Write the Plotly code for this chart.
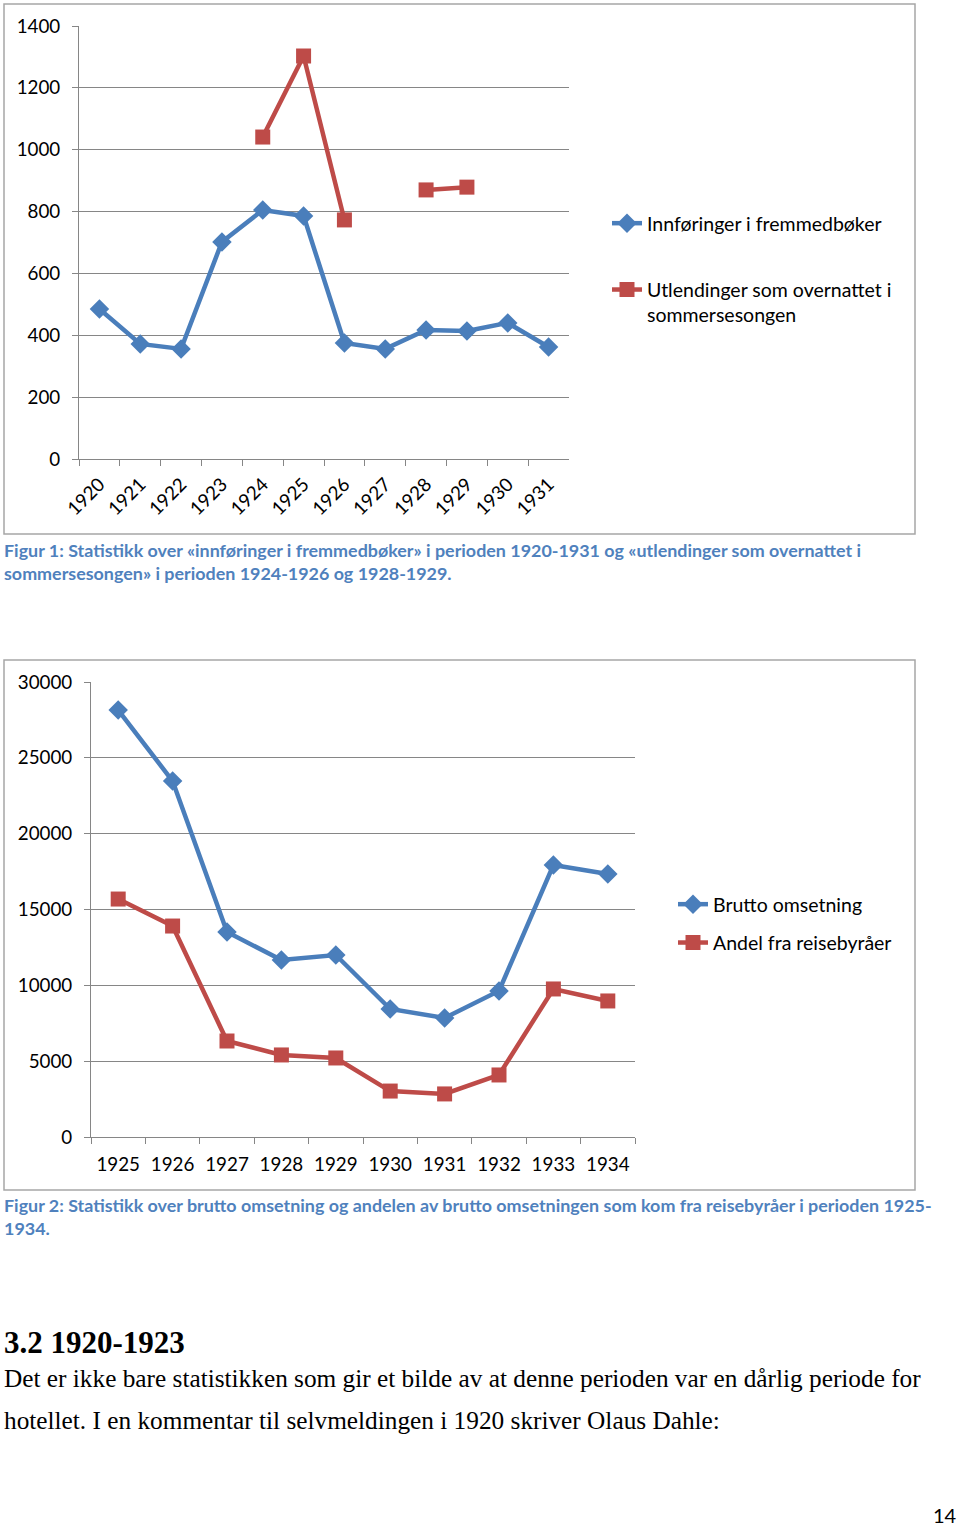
import plotly.graph_objects as go

# ---------- data ----------
years1 = ["1920", "1921", "1922", "1923", "1924", "1925", "1926", "1927", "1928", "1929", "1930", "1931"]
innforinger = [485, 372, 356, 702, 805, 786, 375, 356, 417, 414, 440, 362]
utlendinger = [None, None, None, None, 1041, 1303, 773, None, 870, 879, None, None]

years2 = ["1925", "1926", "1927", "1928", "1929", "1930", "1931", "1932", "1933", "1934"]
brutto = [28150, 23470, 13520, 11670, 12000, 8440, 7850, 9630, 17930, 17340]
reisebyraer = [15690, 13910, 6330, 5410, 5210, 3030, 2840, 4090, 9760, 8970]

yticks1 = [0, 200, 400, 600, 800, 1000, 1200, 1400]
yticks2 = [0, 5000, 10000, 15000, 20000, 25000, 30000]

caption1 = ("Figur 1: Statistikk over «innføringer i fremmedbøker» i perioden 1920-1931 og «utlendinger som overnattet i<br>"
            "sommersesongen» i perioden 1924-1926 og 1928-1929.")
caption2 = ("Figur 2: Statistikk over brutto omsetning og andelen av brutto omsetningen som kom fra reisebyråer i perioden 1925-<br>"
            "1934.")
heading = "3.2 1920-1923"
body1 = "Det er ikke bare statistikken som gir et bilde av at denne perioden var en dårlig periode for"
body2 = "hotellet. I en kommentar til selvmeldingen i 1920 skriver Olaus Dahle:"
pagenum = "14"

# ---------- style ----------
W, H = 960, 1526
BLUE = "#4A7EBB"
RED = "#BE4B48"
GRID = "#868686"
CAP = "#4F81BD"
FONT = "Lato"

def px(x):
    return x / W

def py(y):
    return 1 - y / H

fig = go.Figure()

fig.add_trace(go.Scatter(x=years1, y=innforinger, mode="lines+markers", name="Innføringer i fremmedbøker",
                         line=dict(color=BLUE, width=4.5), marker=dict(symbol="diamond", size=15, color=BLUE),
                         xaxis="x", yaxis="y", legend="legend", legendgroup="a"))
fig.add_trace(go.Scatter(x=years1, y=utlendinger, mode="lines+markers",
                         name="Utlendinger som overnattet i<br>sommersesongen",
                         line=dict(color=RED, width=4.5), marker=dict(symbol="square", size=15, color=RED),
                         connectgaps=False, xaxis="x", yaxis="y", legend="legend", legendgroup="b"))

fig.add_trace(go.Scatter(x=years2, y=brutto, mode="lines+markers", name="Brutto omsetning",
                         line=dict(color=BLUE, width=4.5), marker=dict(symbol="diamond", size=15, color=BLUE),
                         xaxis="x2", yaxis="y2", legend="legend2", legendgroup="c"))
fig.add_trace(go.Scatter(x=years2, y=reisebyraer, mode="lines+markers", name="Andel fra reisebyråer",
                         line=dict(color=RED, width=4.5), marker=dict(symbol="square", size=15, color=RED),
                         xaxis="x2", yaxis="y2", legend="legend2", legendgroup="d"))

axis_font = dict(family=FONT, size=18.8, color="#000000")

common_x = dict(type="category", tickson="boundaries", ticks="outside", ticklen=6, tickcolor=GRID,
                tickwidth=1, showline=True, linecolor=GRID, linewidth=1, showgrid=False,
                zeroline=False, tickfont=axis_font, automargin=False)
common_y = dict(ticks="outside", ticklen=6, tickcolor=GRID, showline=True, linecolor=GRID, linewidth=1,
                showgrid=True, gridcolor=GRID, gridwidth=1, zeroline=False, tickfont=axis_font,
                ticklabelstandoff=8, automargin=False)

fig.update_layout(
    template="none",
    width=W, height=H,
    margin=dict(l=0, r=0, t=0, b=0, pad=0, autoexpand=False),
    paper_bgcolor="white", plot_bgcolor="white",
    font=dict(family=FONT, size=18, color="#000000"),
    xaxis=dict(domain=[px(79), px(569)], anchor="y", range=[-0.5, 11.5], tickangle=-45,
               ticklabelstandoff=6, **common_x),
    yaxis=dict(domain=[py(459), py(26)], anchor="x", range=[0, 1400], tickvals=yticks1,
               ticktext=[str(v) for v in yticks1], **common_y),
    xaxis2=dict(domain=[px(91), px(635)], anchor="y2", range=[-0.5, 9.5], tickangle=0,
                ticklabelstandoff=10, **common_x),
    yaxis2=dict(domain=[py(1137), py(682)], anchor="x2", range=[0, 30000], tickvals=yticks2,
                ticktext=[str(v) for v in yticks2], **common_y),
    legend=dict(x=px(607), y=py(204), xanchor="left", yanchor="top", font=dict(family=FONT, size=19.5),
                tracegroupgap=38, valign="top", bgcolor="rgba(0,0,0,0)", borderwidth=0),
    legend2=dict(x=px(673), y=py(885), xanchor="left", yanchor="top", font=dict(family=FONT, size=19.5),
                 tracegroupgap=10, valign="top", bgcolor="rgba(0,0,0,0)", borderwidth=0),
    showlegend=True,
)

# chart frames
for (x0, y0, x1, y1) in [(4, 4, 915, 534), (4, 660, 915, 1190)]:
    fig.add_shape(type="rect", xref="paper", yref="paper", x0=px(x0), x1=px(x1), y0=py(y0), y1=py(y1),
                  line=dict(color="#A6A6A6", width=1.5), fillcolor="rgba(0,0,0,0)", layer="below")

def note(text, x, y, size, color="#000000", family=FONT, xanchor="left"):
    fig.add_annotation(text=text, xref="paper", yref="paper", x=px(x), y=py(y), xanchor=xanchor,
                       yanchor="middle", showarrow=False, align="left",
                       font=dict(family=family, size=size, color=color))

note("<b>" + caption1 + "</b>", 2, 561, 17.9, CAP)
note("<b>" + caption2 + "</b>", 2, 1216, 17.9, CAP)
note("<b>" + heading + "</b>", 2, 1342, 31, "#000000", "Liberation Serif")
note(body1, 2, 1378, 25.3, "#000000", "Liberation Serif")
note(body2, 2, 1420, 25.3, "#000000", "Liberation Serif")
note(pagenum, 959, 1515, 20, "#000000", FONT, xanchor="right")

fig.write_html("out.html", config={"displayModeBar": False},
               post_script="document.body.style.margin='0';document.body.style.padding='0';")
